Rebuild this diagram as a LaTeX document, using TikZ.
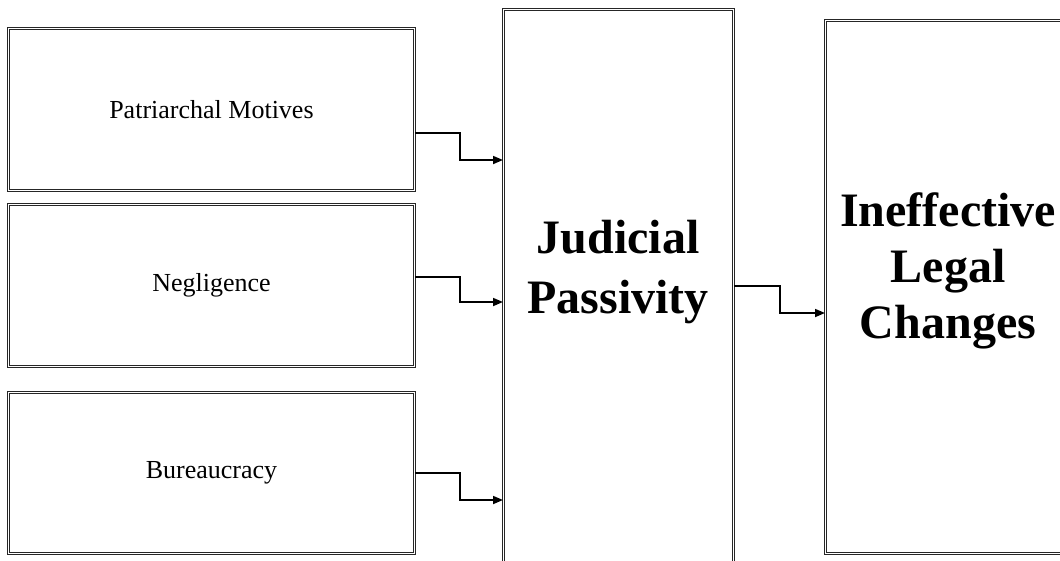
\documentclass[tikz,border=0pt]{standalone}
\usepackage{fontspec}
\setmainfont{Liberation Serif}
\usetikzlibrary{arrows.meta}
\tikzset{
  dbox/.style={draw=black!85, double=white, line width=0.9pt, double distance=1.6pt, inner sep=0pt, anchor=north west},
  smalltext/.style={font=\fontsize{26}{30}\selectfont},
  bigtext/.style={font=\bfseries\fontsize{48}{56}\selectfont, align=center},
  arr/.style={line width=1.7pt, -{Triangle[length=10pt,width=8pt]}}
}
\begin{document}
\begin{tikzpicture}[x=1pt,y=-1pt]
\useasboundingbox (0,0) rectangle (1060,560);
\clip (0,0) rectangle (1060,560);
\node[dbox, minimum width=406pt, minimum height=162pt] (pm) at (8,28) {};
\node[dbox, minimum width=406pt, minimum height=162pt] (ng) at (8,204) {};
\node[dbox, minimum width=406pt, minimum height=161pt] (bu) at (8,392) {};
\node[dbox, minimum width=230pt, minimum height=570pt] (jp) at (503,9) {};
\node[dbox, minimum width=260pt, minimum height=533pt] (il) at (825,20) {};
\node[smalltext] (pmt) at (pm.center) {Patriarchal Motives};
\node[smalltext] (ngt) at (ng.center) {Negligence};
\node[smalltext] (but) at (bu.center) {Bureaucracy};
\node[bigtext, font=\bfseries\fontsize{48}{60}\selectfont] (jpt) at (618,272) {Judicial\\Passivity};
\node[bigtext] (ilt) at (948,271) {Ineffective\\Legal\\Changes};
\draw[arr] (pm.east |- 0,133) -- (460,133) |- (jp.west |- 0,160);
\draw[arr] (ng.east |- 0,277) -- (460,277) |- (jp.west |- 0,302);
\draw[arr] (bu.east |- 0,473) -- (460,473) |- (jp.west |- 0,500);
\draw[arr] (jp.east |- 0,286) -- (780,286) |- (il.west |- 0,313);
\end{tikzpicture}
\end{document}
